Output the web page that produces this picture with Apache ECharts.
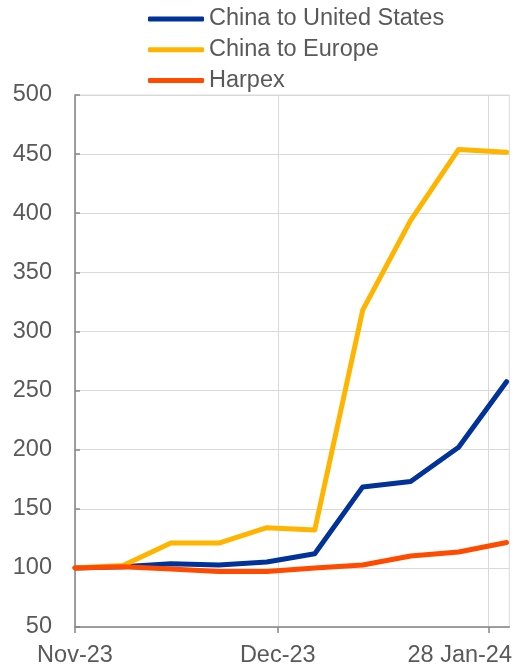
<!DOCTYPE html>
<html>
<head>
<meta charset="utf-8">
<script src="https://cdn.jsdelivr.net/npm/echarts@6/dist/echarts.min.js"></script>
<style>
  html, body { margin: 0; padding: 0; background: #fff; }
  #chart { width: 515px; height: 668px; }
</style>
</head>
<body>
<div id="chart"></div>
<script>
// Weekly freight rate indices (first week = 100), days since 1 Nov 2023
const dayOffsets = [0, 7, 14, 21, 28, 35, 42, 49, 56, 63];
const chinaToUS = [100, 101, 103.5, 102.5, 105, 112, 168.5, 173, 202, 257.5];
const chinaToEurope = [100, 102, 121, 121, 134, 132, 318, 394, 454, 451.5];
const harpex = [100, 101, 99, 97, 97, 100, 102.5, 110, 113.5, 121.5];

const seriesNames = ['China to United States', 'China to Europe', 'Harpex'];
const seriesColors = ['#003299', '#FFB400', '#FF4B00'];

// x-axis tick positions (days) and their labels
const xTickDays = [0, 29.6, 60.4];
const xTickLabels = ['Nov-23', 'Dec-23', '28 Jan-24'];

// y-axis range
const yMin = 50, yMax = 500, yStep = 50;

const FONT = '"Liberation Sans", Arial, sans-serif';
const TEXT = '#595959';

function pairs(vals) {
  return vals.map((v, i) => [dayOffsets[i], v]);
}

const chart = echarts.init(document.getElementById('chart'), null, { renderer: 'canvas' });

chart.setOption({
  animation: false,
  backgroundColor: '#ffffff',
  textStyle: { fontFamily: FONT },
  legend: {
    orient: 'vertical',
    left: 143,
    top: 1,
    itemWidth: 56,
    itemHeight: 5,
    itemGap: 4.8,
    icon: 'roundRect',
    textStyle: { fontFamily: FONT, fontSize: 23.5, color: TEXT, lineHeight: 26 },
    data: seriesNames
  },
  grid: {
    left: 75, right: 5, top: 95, bottom: 40,
    show: true, borderColor: '#d9d9d9', borderWidth: 1
  },
  xAxis: {
    type: 'value',
    min: 0,
    max: 63.4,
    axisLine: { show: true, lineStyle: { color: '#868686', width: 1.5 } },
    axisTick: { show: true, inside: false, length: 6, customValues: xTickDays, lineStyle: { color: '#868686', width: 1.5 } },
    splitLine: { show: true, lineStyle: { color: '#d9d9d9', width: 1 } },
    axisLabel: {
      customValues: xTickDays,
      margin: 17,
      fontFamily: FONT,
      fontSize: 23.5,
      color: TEXT,
      formatter: function (v) {
        const i = xTickDays.findIndex(d => Math.abs(d - v) < 1e-6);
        if (i < 0) return '';
        return i === xTickLabels.length - 1 ? '{r|' + xTickLabels[i] + '}' : xTickLabels[i];
      },
      rich: {
        r: { fontFamily: FONT, fontSize: 23.5, color: TEXT, padding: [0, 58, 0, 0] }
      }
    }
  },
  yAxis: {
    type: 'value',
    min: yMin,
    max: yMax,
    interval: yStep,
    axisLine: { show: true, lineStyle: { color: '#868686', width: 1.5 } },
    axisTick: { show: true, inside: true, length: 5, lineStyle: { color: '#868686', width: 1.5 } },
    splitLine: { show: true, lineStyle: { color: '#d9d9d9', width: 1 } },
    axisLabel: { margin: 23, padding: [3, 0, 0, 0], fontFamily: FONT, fontSize: 23.5, color: TEXT }
  },
  series: [chinaToUS, chinaToEurope, harpex].map((vals, k) => ({
    name: seriesNames[k],
    type: 'line',
    data: pairs(vals),
    symbol: 'none',
    smooth: false,
    z: 3 + k,
    color: seriesColors[k],
    lineStyle: { color: seriesColors[k], width: 5, cap: 'round', join: 'round' }
  }))
});
</script>
</body>
</html>
